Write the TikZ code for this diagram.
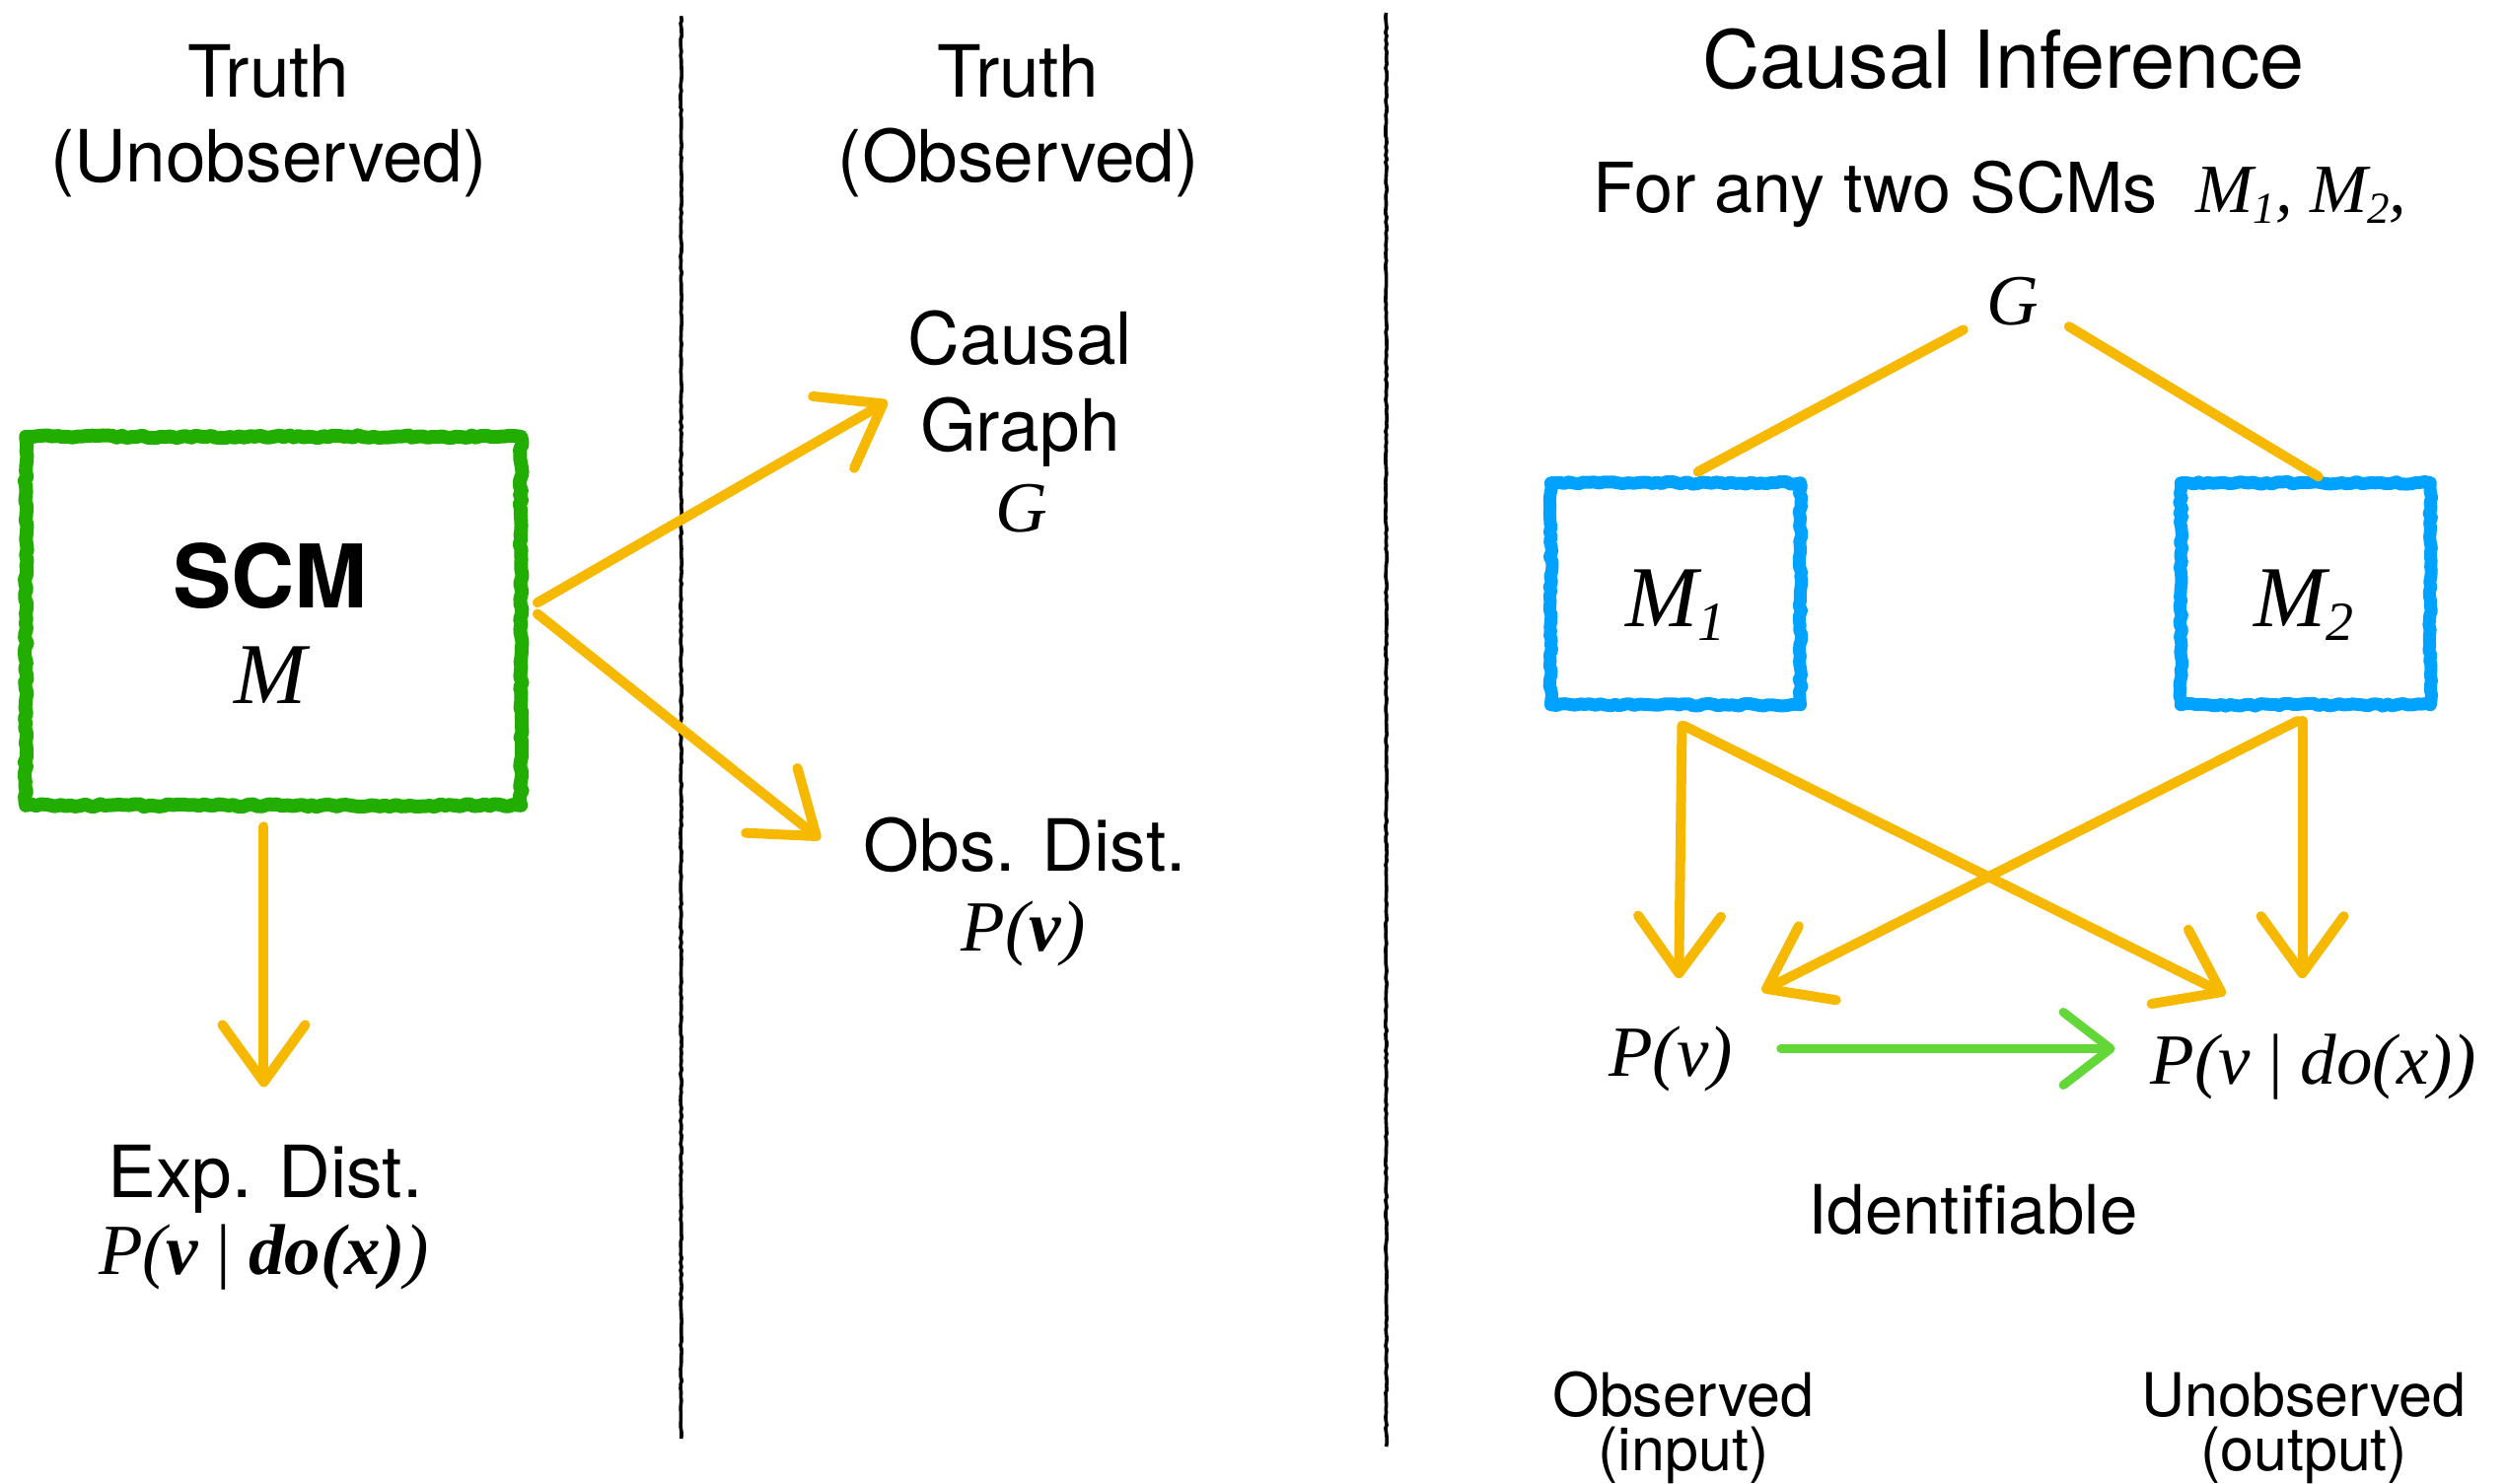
\documentclass[tikz,border=0pt]{standalone}
\usepackage{fontspec}
\setmainfont{TeX Gyre Heros}
\newfontfamily\tms{Liberation Serif}
\usetikzlibrary{arrows.meta,decorations.pathmorphing,calc}
\definecolor{crayon}{RGB}{247,185,0}
\definecolor{boxgreen}{RGB}{34,174,0}
\definecolor{boxblue}{RGB}{0,162,255}
\definecolor{idgreen}{RGB}{99,214,56}
% lowered, smaller index digit
\newcommand{\lowsub}[2]{\raisebox{-0.16em}{\fontsize{#1}{#1}\selectfont #2}}
\newcommand{\bv}[1]{{\bfseries #1}}

\begin{document}
\begin{tikzpicture}[x=1.6212pt,y=-1.6212pt,
  txt/.style={anchor=base,inner sep=0pt,font=\fontsize{73}{80}\selectfont},
  head/.style={txt},
  bighead/.style={txt,font=\fontsize{81}{90}\selectfont},
  small/.style={txt,font=\fontsize{61}{66}\selectfont},
  mth/.style={txt,font=\fontsize{73}{80}\selectfont\tms\itshape},
  bigmth/.style={txt,font=\fontsize{88}{96}\selectfont\tms\itshape},
  rough/.style={decorate,decoration={random steps,segment length=5pt,amplitude=1.4pt}},
  scmbox/.style={draw=boxgreen,line width=14pt,line join=round,rough,
    minimum width=502pt,minimum height=374pt,inner sep=0pt},
  mbox/.style={draw=boxblue,line width=13pt,line join=round,rough,
    minimum width=253pt,minimum height=225pt,inner sep=0pt},
  divider/.style={draw=black,line width=3.6pt,decorate,
    decoration={random steps,segment length=4pt,amplitude=0.7pt}},
  arr/.style={draw=crayon,line width=10pt,line cap=round,
    -{Straight Barb[length=58pt,width=84pt,round]}},
  gline/.style={draw=crayon,line width=10pt,line cap=round},
  idarr/.style={draw=idgreen,line width=9pt,line cap=round,
    -{Straight Barb[length=48pt,width=74pt,round]}}
]
\fill[white] (0,0) rectangle (1568,928);
\useasboundingbox (0,0) rectangle (1568,928);

% panel separators
\draw[divider] (426,10) -- (426,900);
\draw[divider] (867,8) -- (867,905);

% headings
\node[head] (truthL) at (168,61) {Truth};
\node[head] (unobsL) at (168,114) {(Unobserved)};
\node[head] (truthM) at (637,61) {Truth};
\node[head] (obsM) at (637,114) {(Observed)};
\node[bighead] (ci) at (1253,55) {Causal Inference};
\node[txt,font=\fontsize{70}{78}\selectfont] (forany) at (1251,133)
  {For any two SCMs\hspace{0.55em}{\tms\itshape M\lowsub{45}{1}, M\lowsub{45}{2},}};

% left panel: the model
\node[scmbox] (scm) at (171,388.5) {};
\node[txt,font=\fontsize{89}{96}\selectfont\bfseries] (scmT) at (169,380) {SCM};
\node[bigmth] (scmM) at (169,440) {M};

\node[txt] (ed1) at (166,749) {Exp. Dist.};
\node[mth] (ed2) at (165,797) {P(\bv{v} {\upshape|} \bv{do(x)})};

% middle panel: what is observed
\node[txt] (cg1) at (638,228) {Causal};
\node[txt] (cg2) at (638,282) {Graph};
\node[mth] (cgG) at (639,333) {G};
\node[txt] (od1) at (641,545) {Obs. Dist.};
\node[mth] (od2) at (640,595) {P(\bv{v})};

\coordinate (expTip) at (165,680);
\coordinate (cgTip) at (555,251);
\coordinate (odTip) at (513,525);
\draw[arr] ($(scm.south)+(-6,9)$) -- (expTip);
\draw[arr] ($(scm.east)+(6,-11.5)$) -- (cgTip);
\draw[arr] ($(scm.east)+(6,-4.5)$) -- (odTip);

% right panel: two models sharing a graph
\node[mth] (gR) at (1259,203) {G};
\node[mbox] (m1) at (1048,371.5) {};
\node[mbox] (m2) at (1442,371.5) {};
\node[bigmth] (m1l) at (1048,392) {M\lowsub{56}{1}};
\node[bigmth] (m2l) at (1441,392) {M\lowsub{56}{2}};

\draw[gline] ($(gR.center)+(-31,18)$) -- ($(m1.north)+(14,-3)$);
\draw[gline] ($(gR.center)+(35,16)$) -- ($(m2.north)+(8,0)$);

\node[mth] (pv) at (1045,673) {P(v)};
\node[mth] (pvdo) at (1447,678) {P(v {\upshape|} do(x))};

\coordinate (pvTipA) at (1050,612);
\coordinate (pvTipB) at (1102,620);
\coordinate (pvdoTipA) at (1392,622);
\coordinate (pvdoTipB) at (1440,612);
\draw[arr] ($(m1.south)+(4,9)$) -- (pvTipA);
\draw[arr] ($(m1.south)+(5,9)$) -- (pvdoTipA);
\draw[arr] ($(m2.south)+(-5,6)$) -- (pvTipB);
\draw[arr] ($(m2.south)+(-2,6)$) -- (pvdoTipB);

\draw[idarr] ($(pv.base east)+(30,-17)$) -- ($(pvdo.base west)+(-22,-22)$);

\node[txt,font=\fontsize{69}{76}\selectfont] (ident) at (1234,772) {Identifiable};
\node[small] (obsIn) at (1053,886) {Observed};
\node[small] (obsIn2) at (1053,920) {(input)};
\node[small] (unobsOut) at (1441,886) {Unobserved};
\node[small] (unobsOut2) at (1441,920) {(output)};
\end{tikzpicture}
\end{document}
